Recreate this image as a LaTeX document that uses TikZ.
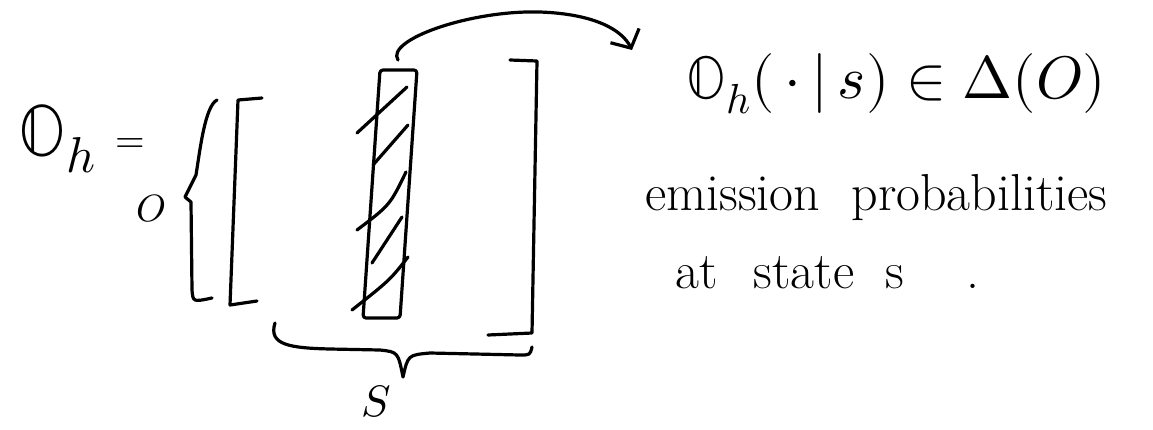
\documentclass[tikz,border=0pt]{standalone}
\usepackage{amsmath}
\usepackage{unicode-math}
\setmathfont{Latin Modern Math}
\usetikzlibrary{arrows.meta,positioning}
\tikzset{
  ink/.style={line width=3.2pt, line cap=round, line join=round},
  arr/.style={ink, -{Straight Barb[length=14pt,width=32pt,line width=3.2pt]}},
  lbl/.style={inner sep=0pt, font=\fontsize{52}{60}\selectfont},
  eqlbl/.style={inner sep=0pt, font=\fontsize{60}{70}\selectfont},
  biglbl/.style={inner sep=0pt, font=\fontsize{72}{80}\selectfont},
  smalllbl/.style={inner sep=0pt, font=\fontsize{38}{44}\selectfont}
}
\begin{document}
\begin{tikzpicture}[x=1pt, y=-1pt]
  \useasboundingbox (0,0) rectangle (1153,429);
  % left hand side
  \node[biglbl, anchor=base west] (lhs) at (18,155) {$\mathbb{O}_h$};
  \node[smalllbl] (eq) at (130,146) {$=$};
  \node[smalllbl] (olab) at (151,209) {$O$};
  % braces and brackets
  \draw[ink] (217,100) .. controls (205,106) and (200,150) .. (196,175) -- (185,197)
    -- (191,202) -- (192,290) .. controls (193,302) .. (212,298);
  \draw[ink] (262,98) -- (238,100) -- (230,305) -- (257,301);
  \draw[ink] (510,60) -- (537,61) -- (532,333) -- (488,335);
  % hatched column
  \draw[ink, rounded corners=3pt] (380,70) -- (417,70) -- (400,318) -- (363,318) -- cycle;
  \draw[ink] (357,133) -- (407,87);
  \draw[ink] (373,165) -- (408,125);
  \draw[ink] (357,230) .. controls (390,205) .. (406,172);
  \draw[ink] (372,263) -- (402,217);
  \draw[ink] (352,310) .. controls (390,280) .. (408,257);
  \coordinate (coltop) at (398,60);
  \coordinate (tip) at (632,50);
  \draw[arr] (coltop) .. controls (385,40) and (470,10) .. (540,12)
    .. controls (595,14) and (622,30) .. (tip);
  % brace below
  \draw[ink] (275,323) .. controls (268,345) and (290,348) .. (330,349) -- (380,350)
    .. controls (398,352) .. (403,377) .. controls (408,355) .. (430,353) -- (520,355)
    .. controls (530,355) .. (532,347);
  \node[smalllbl, font=\fontsize{44}{50}\selectfont] (slab) at (376,401) {$S$};
  % right hand side
  \node[eqlbl] (col) at (896,84) {$\mathbb{O}_h(\,\cdot\,|\,s)\in\Delta(O)$};
  \node[lbl, anchor=base west] (emis) at (645,210) {emission\hspace{0.6em}probabilities};
  \node[lbl, anchor=base west] (state) at (675,288) {at\hspace{0.7em}state\hspace{0.6em}s\hspace{1.2em}.};
\end{tikzpicture}
\end{document}
